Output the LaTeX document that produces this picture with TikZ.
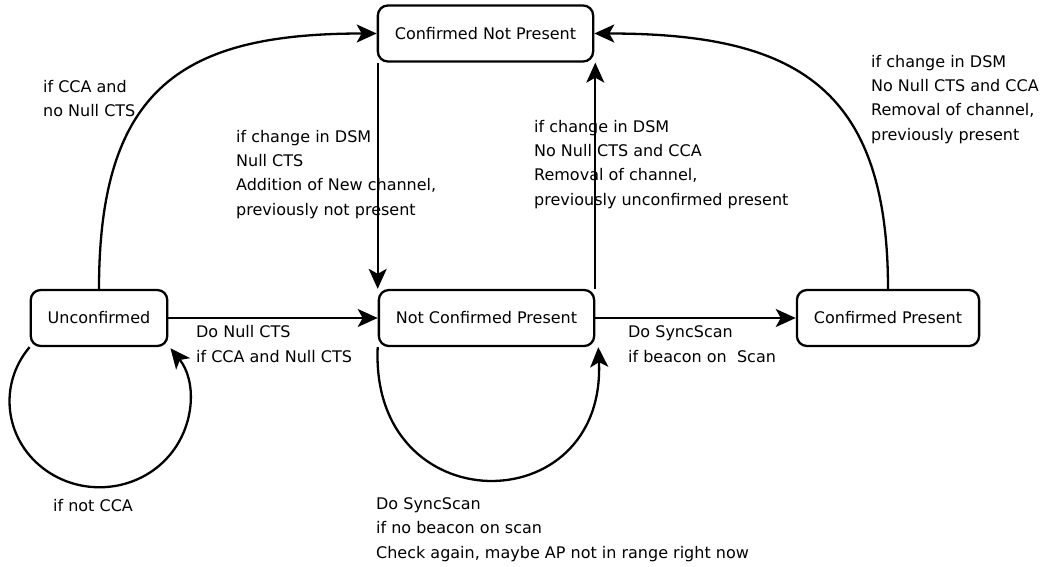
\documentclass[tikz,border=0pt]{standalone}
\usepackage{fontspec}
\setmainfont{DejaVu Sans}
\usetikzlibrary{arrows.meta}

\begin{document}
\begin{tikzpicture}[x=1pt, y=1pt, line width=2.3pt,
	every node/.style={font=\fontsize{16}{24.3}\selectfont},
	state/.style={draw, rounded corners=10pt, minimum height=56pt, inner xsep=17pt},
	lbl/.style={anchor=base west, align=left, inner sep=0pt},
	arr/.style={-{Stealth[length=20pt, width=18pt, inset=5pt]}}]
	
	% frame of the page
	\useasboundingbox (0,0) rectangle (1054,-567);
	
	% States
	\node[state] (cnp) at (485.5,-33.5) {Confirmed Not Present};
	\node[state] (unc) at (99,-318) {Unconfirmed};
	\node[state] (ncp) at (486.5,-318) {Not Confirmed Present};
	\node[state] (cp)  at (888,-318) {Confirmed Present};
	
	% Transitions along the middle row
	\draw[arr] (unc) -- (ncp);
	\draw[arr] (ncp) -- (cp);
	
	% Between the two "not present" states
	\draw[arr] ([xshift=1pt]cnp.south west) -- ([xshift=1pt]cnp.south west |- ncp.north);
	\draw[arr] (ncp.north east) -- (ncp.north east |- cnp.south);
	
	% Long arcs up to Confirmed Not Present
	\draw[arr] (unc.north) .. controls +(0,203) and +(-192,0) .. (cnp.west);
	\draw[arr] (cp.north) .. controls +(0,203) and +(200,0) .. (cnp.east);
	
	% Self loops
	\draw[arr] (unc.south west) arc[start angle=141, end angle=398, x radius=90, y radius=86];
	\draw[arr] (ncp.south west) .. controls +(-8,-176) and +(8,-176) .. ([xshift=3pt]ncp.south east);
	
	% Labels (placed by the baseline of their last line)
	\node[lbl] (l1) at (42,-117) {if CCA and\\no Null CTS};
	\node[lbl] (l2) at (235,-215) {if change in DSM\\Null CTS\\Addition of New channel,\\previously not present};
	\node[lbl] (l3) at (533,-205) {if change in DSM\\No Null CTS and CCA\\Removal of channel,\\previously unconfirmed present};
	\node[lbl] (l4) at (870,-140) {if change in DSM\\No Null CTS and CCA\\Removal of channel,\\previously present};
	\node[lbl] (l5) at (195,-362) {Do Null CTS\\if CCA and Null CTS};
	\node[lbl] (l6) at (627,-362) {Do SyncScan\\if beacon on~ Scan};
	\node[lbl] (l7) at (52,-511) {if not CCA};
	\node[lbl] (l8) at (375,-558) {Do SyncScan\\if no beacon on scan\\Check again, maybe AP not in range right now};
	
\end{tikzpicture}
\end{document}
